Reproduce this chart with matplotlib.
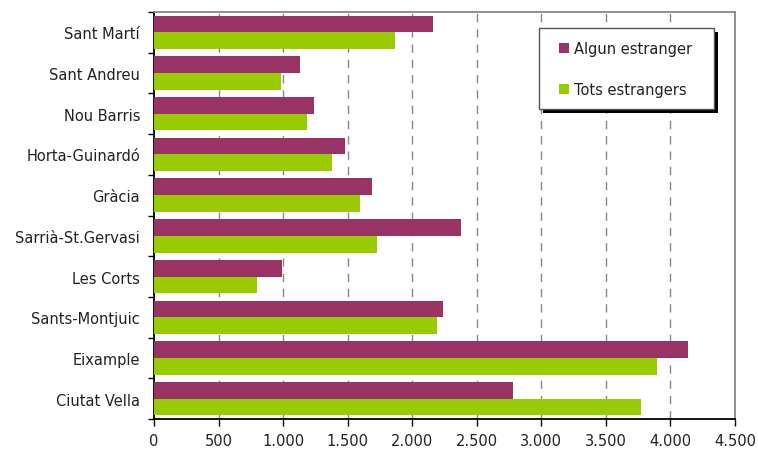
import matplotlib.pyplot as plt
import numpy as np
from matplotlib.patches import Rectangle
from matplotlib.ticker import FuncFormatter

districtes = ["Ciutat Vella", "Eixample", "Sants-Montjuic", "Les Corts",
              "Sarrià-St.Gervasi", "Gràcia", "Horta-Guinardó", "Nou Barris",
              "Sant Andreu", "Sant Martí"]
algun = [2777, 4135, 2242, 995, 2374, 1691, 1482, 1241, 1133, 2164]
tots = [3770, 3894, 2195, 799, 1730, 1598, 1381, 1187, 985, 1870]

W, H = 758, 452
plt.rcParams['font.family'] = ['DejaVu Sans']
fig = plt.figure(figsize=(W/100, H/100), dpi=100)
ax = fig.add_axes([154/W, 1 - 420/H, (735-154)/W, (420-13)/H])

y = np.arange(len(districtes))
h = 0.41
ax.barh(y + h/2, algun, height=h, color="#993366", label="Algun estranger", zorder=3)
ax.barh(y - h/2, tots, height=h, color="#99cc00", label="Tots estrangers", zorder=3)

ax.set_xlim(0, 4500)
ax.set_ylim(-0.5, len(districtes) - 0.5)
ax.set_xticks(np.arange(0, 4501, 500))
ax.xaxis.set_major_formatter(FuncFormatter(lambda v, p: f"{int(v):,}".replace(",", ".")))
ax.set_yticks(y)
ax.set_yticklabels(districtes)
ax.set_yticks(np.arange(-0.5, len(districtes), 1), minor=True)
ax.tick_params(axis='y', which='major', length=0, pad=10, labelsize=10.5, colors='#222222')
ax.tick_params(axis='y', which='minor', length=4, width=1, color='black', direction='out')
ax.tick_params(axis='x', length=5, width=1, color='black', direction='out', pad=5,
               labelsize=10.5, labelcolor='#222222')

for v in np.arange(500, 4500, 500):
    ax.axvline(v, color='#888888', linestyle=(0, (6, 5)), linewidth=1, zorder=1)

ax.spines['left'].set_color('black')
ax.spines['bottom'].set_color('black')
ax.spines['top'].set_color('#888888')
ax.spines['right'].set_color('#888888')
for s in ax.spines.values():
    s.set_linewidth(1.3)

# legend box with hard black shadow
bx0, by0, bw, bh = 539, 29, 175, 81
fig.patches.append(Rectangle(((bx0 + 4)/W, 1 - (by0 + bh + 4)/H), bw/W, bh/H,
                             transform=fig.transFigure, facecolor='black',
                             edgecolor='none', zorder=5))
fig.patches.append(Rectangle((bx0/W, 1 - (by0 + bh)/H), bw/W, bh/H,
                             transform=fig.transFigure, facecolor='white',
                             edgecolor='#555555', linewidth=1, zorder=6))

leg = ax.legend(loc='center left', bbox_to_anchor=(559/W, 1 - 70/H),
                bbox_transform=fig.transFigure, fontsize=10.5, frameon=False,
                handlelength=0.7, handleheight=0.7, handletextpad=0.3,
                labelspacing=1.8, borderpad=0, borderaxespad=0)
leg.set_zorder(7)
leg.remove()
fig.legends.append(leg)
for t in leg.get_texts():
    t.set_color('#222222')

fig.savefig("out.png", dpi=100)
